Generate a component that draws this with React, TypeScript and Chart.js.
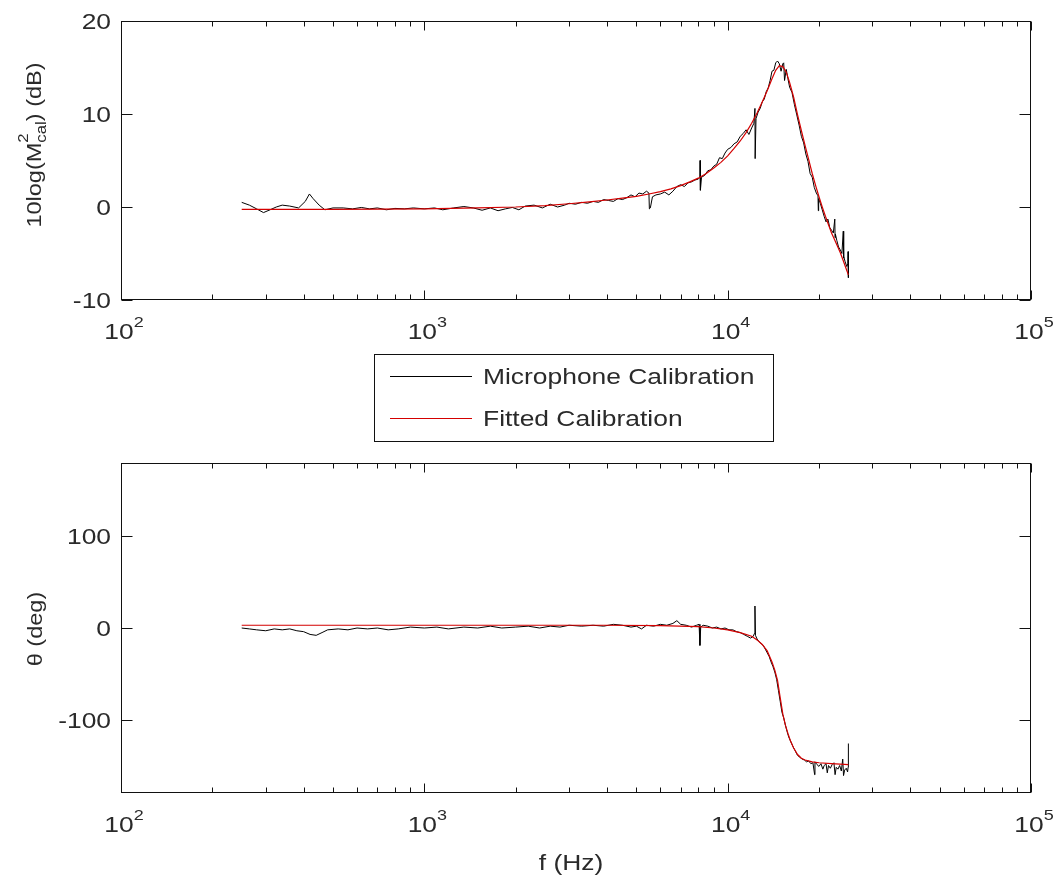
import React, { useEffect, useRef } from 'react';
import { Chart, registerables } from 'chart.js';

Chart.register(...registerables);

// ---------------- DATA ----------------
const magFreq = [250, 265, 280, 295, 310, 325, 340, 360, 385, 405, 418, 430, 450, 470, 500, 540, 580, 620, 660, 700, 750, 800, 860, 920, 1000, 1080, 1150, 1250, 1350, 1450, 1550, 1650, 1750, 1850, 1950, 2050, 2150, 2300, 2450, 2600, 2750, 2900, 3000, 3150, 3300, 3450, 3600, 3750, 3900, 4050, 4200, 4350, 4500, 4650, 4800, 4950, 5100, 5250, 5400, 5500, 5520, 5560, 5650, 5800, 6000, 6200, 6400, 6600, 6800, 7000, 7200, 7400, 7600, 7800, 8000, 8100, 8110, 8130, 8200, 8400, 8600, 8800, 9000, 9200, 9400, 9600, 9800, 10000, 10250, 10500, 10750, 11000, 11250, 11500, 11750, 12000, 12200, 12300, 12320, 12400, 12600, 12800, 13000, 13200, 13400, 13600, 13800, 14000, 14200, 14400, 14600, 14800, 15000, 15200, 15300, 15400, 15600, 15800, 16000, 16300, 16600, 16900, 17200, 17500, 17800, 18100, 18400, 18700, 19000, 19300, 19600, 19850, 19900, 19950, 20200, 20500, 20800, 21100, 21400, 21700, 22000, 22300, 22550, 22600, 22650, 22900, 23200, 23500, 23800, 24050, 24100, 24150, 24400, 24700, 24900, 24950, 25000];
const magMeasured = [0.5, 0.2, -0.2, -0.6, -0.3, 0.0, 0.2, 0.1, -0.1, 0.6, 1.4, 0.9, 0.2, -0.3, -0.1, -0.1, -0.2, -0.05, -0.2, -0.1, -0.3, -0.15, -0.2, -0.1, -0.2, -0.1, -0.3, -0.1, 0.05, -0.1, -0.35, -0.1, -0.4, -0.2, -0.05, -0.3, 0.1, 0.2, -0.1, 0.3, 0.0, 0.2, 0.4, 0.3, 0.5, 0.4, 0.6, 0.5, 0.8, 0.7, 0.6, 0.9, 0.8, 1.0, 1.3, 1.1, 1.5, 1.4, 1.7, 1.5, -0.2, -0.1, 1.1, 1.3, 1.4, 1.6, 1.3, 1.7, 2.2, 2.4, 2.2, 2.6, 2.7, 2.9, 3.0, 3.2, 5.0, 1.8, 3.2, 3.4, 3.9, 4.0, 4.4, 4.6, 5.3, 5.2, 5.8, 6.2, 6.4, 6.8, 7.0, 7.6, 7.9, 8.3, 7.8, 8.5, 9.0, 10.6, 5.2, 9.5, 10.2, 10.6, 11.3, 11.6, 12.4, 12.8, 13.6, 14.6, 14.7, 15.5, 15.7, 15.4, 14.6, 15.4, 15.5, 13.6, 14.8, 13.8, 12.9, 12.3, 11.0, 9.9, 8.8, 7.6, 6.9, 5.7, 4.9, 3.6, 3.2, 2.1, 1.5, 1.2, -0.4, 0.9, 0.4, -0.3, -1.0, -1.6, -1.3, -2.2, -2.5, -2.8, -1.3, -3.3, -2.9, -3.6, -4.3, -4.6, -5.0, -2.6, -5.5, -5.3, -5.9, -6.4, -6.1, -4.8, -7.6];

const fitMagFreq = [250, 500, 1000, 1500, 2000, 2500, 3000, 3500, 4000, 4500, 5000, 5500, 6000, 6500, 7000, 7500, 8000, 8500, 9000, 9500, 10000, 10500, 11000, 11500, 12000, 12500, 13000, 13500, 14000, 14400, 14800, 15200, 15600, 16000, 16500, 17000, 17500, 18000, 18500, 19000, 19500, 20000, 20500, 21000, 21500, 22000, 22500, 23000, 23500, 24000, 24500, 25000];
const fitMag = [-0.25, -0.25, -0.2, -0.1, 0.0, 0.15, 0.35, 0.55, 0.75, 0.95, 1.15, 1.4, 1.65, 1.95, 2.3, 2.7, 3.1, 3.6, 4.2, 4.8, 5.5, 6.3, 7.1, 8.0, 9.0, 10.1, 11.3, 12.5, 13.8, 14.7, 15.2, 15.1, 14.5, 13.4, 11.8, 9.9, 8.2, 6.6, 5.1, 3.6, 2.3, 1.1, 0.0, -1.0, -1.9, -2.8, -3.5, -4.2, -4.9, -5.7, -6.5, -7.3];

const phaseFreq = [250, 265, 280, 300, 320, 340, 360, 380, 400, 420, 440, 460, 480, 520, 560, 600, 650, 700, 760, 820, 900, 1000, 1100, 1200, 1350, 1500, 1650, 1800, 2000, 2200, 2400, 2600, 2800, 3000, 3300, 3600, 3900, 4200, 4500, 4800, 5000, 5200, 5400, 5700, 6000, 6300, 6600, 6800, 7000, 7300, 7600, 7900, 8050, 8100, 8150, 8300, 8600, 8900, 9200, 9500, 9800, 10100, 10400, 10700, 11000, 11300, 11600, 11900, 12150, 12250, 12300, 12350, 12500, 12700, 12900, 13100, 13300, 13500, 13700, 13900, 14100, 14300, 14500, 14700, 14900, 15100, 15300, 15500, 15700, 15900, 16100, 16400, 16700, 17000, 17300, 17600, 17900, 18200, 18500, 18800, 19100, 19350, 19400, 19700, 20000, 20300, 20600, 20800, 21100, 21300, 21500, 21800, 22100, 22400, 22600, 22800, 23100, 23400, 23700, 23950, 24100, 24300, 24600, 24850, 24950, 25000];
const phaseMeasured = [0, -1, -2, -3, -1, -2, -1, -3, -4, -7, -8, -5, -2, -1, -2, 0, -1, 0, -2, -1, 1, 0, 1, -1, 1, 0, 2, 0, 1, 2, 0, 2, 1, 3, 2, 3, 2, 4, 3, 1, 2, -1, 3, 2, 4, 3, 5, 8, 4, 3, 1, 3, 4, -19, 1, 3, 2, 0, 1, -1, 0, -2, -2, -4, -5, -7, -9, -11, -9, -6, 24, -8, -12, -15, -17, -19, -23, -27, -31, -37, -42, -48, -56, -68, -80, -92, -98, -106, -113, -119, -123, -129, -134, -139, -141, -143, -144, -146, -145, -148, -147, -160, -146, -149, -151, -148, -154, -150, -148, -158, -150, -153, -149, -147, -160, -152, -154, -150, -156, -143, -161, -155, -153, -157, -152, -126];

const fitPhaseFreq = [250, 500, 1000, 2000, 4000, 6000, 8000, 9000, 10000, 11000, 12000, 12500, 13000, 13500, 14000, 14300, 14600, 14900, 15200, 15500, 15800, 16100, 16500, 17000, 17500, 18000, 19000, 20000, 22000, 25000];
const fitPhase = [3, 3, 3, 3, 3, 2.5, 1.5, 0, -2, -5, -9, -13, -18, -25, -37, -46, -57, -76, -94, -106, -115, -123, -131, -138, -142, -144, -146, -147, -148, -149];

const xTickExponents = [2, 3, 4, 5];
const magTicks = [-10, 0, 10, 20];
const phaseTicks = [-100, 0, 100];
const seriesNames = ['Microphone Calibration', 'Fitted Calibration'];
const magLabelParts = ['10log(M', '2', 'cal', ') (dB)'];
const phaseLabel = '\u03b8 (deg)';
const freqLabel = 'f (Hz)';

// ---------------- STYLE ----------------
const FONT = '"Liberation Sans", Arial, Helvetica, sans-serif';
const TXT = '#2a2a2a';
const SX = 1.2;
const MEAS_COLOR = '#000000';
const FIT_COLOR = '#d40000';

type Run = { t: string; size: number; dy: number; stackWith?: boolean };

function measureRuns(ctx: CanvasRenderingContext2D, runs: Run[]) {
  let w = 0;
  let lastW = 0;
  for (const r of runs) {
    ctx.font = `${r.size}px ${FONT}`;
    const m = ctx.measureText(r.t).width;
    if (r.stackWith) {
      const extra = Math.max(0, m - lastW);
      w += extra;
      lastW = Math.max(lastW, m);
    } else {
      w += m;
      lastW = m;
    }
  }
  return w;
}

function drawRuns(
  ctx: CanvasRenderingContext2D,
  runs: Run[],
  x: number,
  y: number,
  align: 'left' | 'center' | 'right',
  angle = 0,
  sx = SX,
) {
  ctx.save();
  ctx.translate(x, y);
  ctx.rotate(angle);
  ctx.scale(sx, 1);
  const w = measureRuns(ctx, runs);
  let cx = align === 'center' ? -w / 2 : align === 'right' ? -w : 0;
  ctx.fillStyle = TXT;
  ctx.textAlign = 'left';
  ctx.textBaseline = 'alphabetic';
  let lastStart = cx;
  let lastW = 0;
  for (const r of runs) {
    ctx.font = `${r.size}px ${FONT}`;
    const m = ctx.measureText(r.t).width;
    if (r.stackWith) {
      ctx.fillText(r.t, lastStart, r.dy);
      cx = lastStart + Math.max(lastW, m);
      lastW = Math.max(lastW, m);
    } else {
      ctx.fillText(r.t, cx, r.dy);
      lastStart = cx;
      lastW = m;
      cx += m;
    }
  }
  ctx.restore();
}

const matlabAxes = {
  id: 'matlabAxes',
  afterDraw(chart: any, _args: any, opts: any) {
    const ctx: CanvasRenderingContext2D = chart.ctx;
    const { left, right, top, bottom } = chart.chartArea;
    const xs = chart.scales.x;
    const ys = chart.scales.y;
    ctx.save();
    ctx.strokeStyle = '#111';
    ctx.lineWidth = 1;
    const L = Math.round(left) + 0.5;
    const R = Math.round(right) - 0.5;
    const T = Math.round(top) + 0.5;
    const B = Math.round(bottom) - 0.5;
    ctx.strokeRect(L, T, R - L, B - T);

    ctx.beginPath();
    for (const e of xTickExponents) {
      for (let m = 1; m <= 9; m++) {
        const v = m * Math.pow(10, e);
        if (v > 100000) break;
        const px = Math.round(xs.getPixelForValue(v)) + 0.5;
        const len = m === 1 ? 9 : 5;
        ctx.moveTo(px, B);
        ctx.lineTo(px, B - len);
        ctx.moveTo(px, T);
        ctx.lineTo(px, T + len);
      }
    }
    for (const v of opts.yTicks as number[]) {
      const py = Math.round(ys.getPixelForValue(v)) + 0.5;
      ctx.moveTo(L, py);
      ctx.lineTo(L + 11, py);
      ctx.moveTo(R, py);
      ctx.lineTo(R - 11, py);
    }
    ctx.stroke();

    for (const v of opts.yTicks as number[]) {
      const py = ys.getPixelForValue(v);
      drawRuns(ctx, [{ t: String(v), size: 22, dy: 0 }], left - 10, py + 8, 'right');
    }
    for (const e of xTickExponents) {
      const px = xs.getPixelForValue(Math.pow(10, e));
      ctx.font = `22px ${FONT}`;
      const w10 = ctx.measureText('10').width * SX;
      drawRuns(
        ctx,
        [
          { t: '10', size: 22, dy: 0 },
          { t: String(e), size: 15, dy: -12 },
        ],
        px - w10 / 2 - 2,
        bottom + 39,
        'left',
      );
    }
    if (opts.yLabelRuns) {
      drawRuns(ctx, opts.yLabelRuns, opts.yLabelX, opts.yLabelY, 'center', -Math.PI / 2, 1.12);
    }
    if (opts.xLabel) {
      drawRuns(ctx, [{ t: opts.xLabel, size: 22, dy: 0 }], opts.xLabelX, opts.xLabelY, 'center');
    }
    if (opts.legend) {
      const lg = opts.legend;
      ctx.fillStyle = '#fff';
      ctx.fillRect(lg.x, lg.y, lg.w, lg.h);
      ctx.strokeStyle = '#111';
      ctx.lineWidth = 1;
      ctx.strokeRect(lg.x + 0.5, lg.y + 0.5, lg.w, lg.h);
      const items = [
        { name: seriesNames[0], color: MEAS_COLOR },
        { name: seriesNames[1], color: FIT_COLOR },
      ];
      items.forEach((it, i) => {
        const cy = lg.y + 22 + i * 42;
        ctx.strokeStyle = it.color;
        ctx.lineWidth = 1.2;
        ctx.beginPath();
        ctx.moveTo(lg.x + 16, cy + 0.5);
        ctx.lineTo(lg.x + 98, cy + 0.5);
        ctx.stroke();
        drawRuns(ctx, [{ t: it.name, size: 22, dy: 0 }], lg.x + 109, cy + 8, 'left');
      });
    }
    ctx.restore();
  },
};

function pts(xs: number[], ys: number[]) {
  return xs.map((x, i) => ({ x, y: ys[i] }));
}

function makeConfig(
  measX: number[],
  measY: number[],
  fitX: number[],
  fitY: number[],
  yMin: number,
  yMax: number,
  padTop: number,
  padBottom: number,
  pluginOpts: any,
): any {
  return {
    type: 'line',
    data: {
      datasets: [
        {
          label: seriesNames[1],
          data: pts(fitX, fitY),
          borderColor: FIT_COLOR,
          borderWidth: 1.2,
          pointRadius: 0,
          tension: 0,
          fill: false,
        },
        {
          label: seriesNames[0],
          data: pts(measX, measY),
          borderColor: MEAS_COLOR,
          borderWidth: 1,
          pointRadius: 0,
          tension: 0,
          fill: false,
        },
      ],
    },
    options: {
      animation: false,
      responsive: false,
      devicePixelRatio: 1,
      events: [],
      layout: { padding: { left: 121, right: 25, top: padTop, bottom: padBottom } },
      plugins: {
        legend: { display: false },
        tooltip: { enabled: false },
        matlabAxes: pluginOpts,
      },
      scales: {
        x: { type: 'logarithmic', min: 100, max: 100000, display: false },
        y: { type: 'linear', min: yMin, max: yMax, display: false },
      },
    },
    plugins: [matlabAxes],
  };
}

export default function App() {
  const topRef = useRef<HTMLCanvasElement>(null);
  const botRef = useRef<HTMLCanvasElement>(null);

  useEffect(() => {
    const magRuns: Run[] = [
      { t: magLabelParts[0], size: 21, dy: 0 },
      { t: magLabelParts[1], size: 15, dy: -13 },
      { t: magLabelParts[2], size: 15, dy: 5, stackWith: true },
      { t: magLabelParts[3], size: 21, dy: 0 },
    ];
    const top = new Chart(
      topRef.current as HTMLCanvasElement,
      makeConfig(magFreq, magMeasured, fitMagFreq, fitMag, -10, 20, 21, 150, {
        yTicks: magTicks,
        yLabelRuns: magRuns,
        yLabelX: 41,
        yLabelY: 145,
        legend: { x: 374, y: 354, w: 399, h: 87 },
      }),
    );
    const bot = new Chart(
      botRef.current as HTMLCanvasElement,
      makeConfig(phaseFreq, phaseMeasured, fitPhaseFreq, fitPhase, -180, 180, 13, 89, {
        yTicks: phaseTicks,
        yLabelRuns: [{ t: phaseLabel, size: 21, dy: 0 }],
        yLabelX: 42,
        yLabelY: 179,
        xLabel: freqLabel,
        xLabelX: 571,
        xLabelY: 420,
      }),
    );
    return () => {
      top.destroy();
      bot.destroy();
    };
  }, []);

  return (
    <div style={{ position: 'absolute', left: 0, top: 0, width: 1056, height: 882, background: '#fff' }}>
      <canvas ref={topRef} width={1056} height={450} style={{ position: 'absolute', left: 0, top: 0, width: 1056, height: 450 }} />
      <canvas ref={botRef} width={1056} height={432} style={{ position: 'absolute', left: 0, top: 450, width: 1056, height: 432 }} />
    </div>
  );
}
